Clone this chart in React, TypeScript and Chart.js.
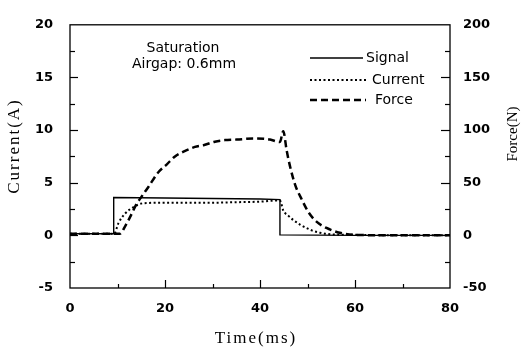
import React, { useEffect, useRef } from "react";
import { Chart, registerables } from "chart.js";

Chart.register(...registerables);

// ---- data ----
const signalTime = [0, 9.2, 9.2, 20, 30, 40, 44.2, 44.2, 60, 80];
const signalValues = [0.15, 0.15, 3.6, 3.55, 3.5, 3.45, 3.4, 0.05, 0, 0];

const currentTime = [0, 5, 9.3, 10.2, 11.6, 13.3, 15.4, 20, 25, 30, 35, 40, 43, 44.2, 44.9, 46, 47, 48.5, 49.8, 51, 52.6, 55, 60, 70, 80];
const currentValues = [0.15, 0.15, 0.15, 1.16, 2.07, 2.67, 3.05, 3.1, 3.1, 3.1, 3.15, 3.2, 3.3, 3.3, 2.36, 1.85, 1.46, 1.0, 0.7, 0.45, 0.25, 0.1, 0.05, 0, 0];

const forceTime = [0, 10.5, 11.6, 13.0, 14.0, 15.1, 16.5, 18.6, 20.4, 22.1, 23.9, 26.3, 28.1, 30.5, 32.6, 35.1, 38.6, 42.1, 44.2, 44.9, 45.6, 46.3, 47.4, 48.8, 50.2, 51.9, 54, 56.8, 60, 70, 80];
const forceValues = [1.5, 1.5, 8.6, 20.6, 29.7, 37, 46, 60, 67.5, 75, 79.5, 84, 85.6, 89, 90.5, 91, 92, 91, 88.6, 99, 81, 66, 48, 34, 22, 13, 7, 2.5, 0.5, 0, 0];

const xTicks = [0, 20, 40, 60, 80];
const yTicks = [-5, 0, 5, 10, 15, 20];
const y1Ticks = [-50, 0, 50, 100, 150, 200];

const seriesNames = ["Signal", "Current", "Force"];
const annotationLines = ["Saturation", "Airgap: 0.6mm"];
const xTitle = "Time(ms)";
const yTitle = "Current(A)";
const y1Title = "Force(N)";

const toPoints = (t: number[], v: number[]) => t.map((x, i) => ({ x, y: v[i] }));

export default function App() {
  const ref = useRef<HTMLCanvasElement>(null);

  useEffect(() => {
    const canvas = ref.current;
    if (!canvas) return;

    const overlay = {
      id: "overlay",
      afterDraw(chart: any) {
        const { ctx, chartArea: a, scales } = chart;
        const xs = scales.x, ys = scales.y, y1s = scales.y1;
        ctx.save();
        ctx.strokeStyle = "#000";
        ctx.fillStyle = "#000";
        // frame
        ctx.lineWidth = 1.3;
        ctx.strokeRect(a.left, a.top, a.right - a.left, a.bottom - a.top);
        ctx.lineWidth = 1.2;
        // bottom ticks (inward)
        const xStep = (xTicks[1] - xTicks[0]) / 2;
        for (let v = xTicks[0] + xStep; v < xTicks[xTicks.length - 1]; v += xStep) {
          const px = Math.round(xs.getPixelForValue(v)) + 0.5;
          const major = xTicks.includes(v);
          ctx.beginPath();
          ctx.moveTo(px, a.bottom);
          ctx.lineTo(px, a.bottom - (major ? 8 : 4));
          ctx.stroke();
        }
        // left ticks
        const yStep = (yTicks[1] - yTicks[0]) / 2;
        for (let v = yTicks[0] + yStep; v < yTicks[yTicks.length - 1]; v += yStep) {
          const py = Math.round(ys.getPixelForValue(v)) + 0.5;
          const major = yTicks.includes(v);
          ctx.beginPath();
          ctx.moveTo(a.left, py);
          ctx.lineTo(a.left + (major ? 8 : 5), py);
          ctx.stroke();
        }
        // right ticks
        const y1Step = (y1Ticks[1] - y1Ticks[0]) / 2;
        for (let v = y1Ticks[0] + y1Step; v < y1Ticks[y1Ticks.length - 1]; v += y1Step) {
          const py = Math.round(y1s.getPixelForValue(v)) + 0.5;
          const major = y1Ticks.includes(v);
          ctx.beginPath();
          ctx.moveTo(a.right, py);
          ctx.lineTo(a.right - (major ? 9 : 5), py);
          ctx.stroke();
        }

        // axis titles
        ctx.textAlign = "center";
        ctx.textBaseline = "middle";
        ctx.font = "17px 'Liberation Serif'";
        (ctx as any).letterSpacing = "2px";
        ctx.fillText(xTitle, 256, 339);
        ctx.save();
        ctx.translate(15, 146);
        ctx.rotate(-Math.PI / 2);
        ctx.fillText(yTitle, 0, 0);
        ctx.restore();
        (ctx as any).letterSpacing = "0px";
        ctx.font = "15px 'Liberation Serif'";
        ctx.save();
        ctx.translate(513, 134);
        ctx.rotate(-Math.PI / 2);
        ctx.fillText(y1Title, 0, 0);
        ctx.restore();

        // annotation
        ctx.font = "14px 'DejaVu Sans'";
        ctx.fillText(annotationLines[0], 183, 48);
        ctx.fillText(annotationLines[1], 184, 64);

        // legend
        const legendRows = [
          { y: 58, x0: 310, x1: 363, tx: 366, dash: [], w: 1.3 },
          { y: 80, x0: 310, x1: 368, tx: 372, dash: [2, 2.5], w: 2 },
          { y: 100, x0: 310, x1: 366, tx: 375, dash: [7, 4], w: 2.5 },
        ];
        ctx.textAlign = "left";
        legendRows.forEach((r, i) => {
          ctx.save();
          ctx.lineWidth = r.w;
          ctx.setLineDash(r.dash);
          ctx.beginPath();
          ctx.moveTo(r.x0, r.y);
          ctx.lineTo(r.x1, r.y);
          ctx.stroke();
          ctx.restore();
          ctx.fillText(seriesNames[i], r.tx, r.y);
        });
        ctx.restore();
      },
    };

    const tickFont = { family: "'DejaVu Sans'", size: 13, weight: "bold" as const };

    const chart = new Chart(canvas, {
      type: "line",
      data: {
        datasets: [
          {
            label: seriesNames[0],
            data: toPoints(signalTime, signalValues),
            borderColor: "#000",
            borderWidth: 1.4,
            pointRadius: 0,
            tension: 0,
            yAxisID: "y",
          },
          {
            label: seriesNames[1],
            data: toPoints(currentTime, currentValues),
            borderColor: "#000",
            borderWidth: 2,
            borderDash: [2, 2.5],
            pointRadius: 0,
            cubicInterpolationMode: "monotone",
            yAxisID: "y",
          },
          {
            label: seriesNames[2],
            data: toPoints(forceTime, forceValues),
            borderColor: "#000",
            borderWidth: 2.5,
            borderDash: [7, 4],
            pointRadius: 0,
            cubicInterpolationMode: "monotone",
            yAxisID: "y1",
          },
        ],
      },
      options: {
        responsive: true,
        maintainAspectRatio: false,
        animation: false,
        layout: { padding: { top: 12, left: 0, right: 0, bottom: 0 } },
        plugins: { legend: { display: false }, tooltip: { enabled: false } },
        scales: {
          x: {
            type: "linear",
            min: xTicks[0],
            max: xTicks[xTicks.length - 1],
            afterBuildTicks: (s: any) => { s.ticks = xTicks.map((v) => ({ value: v })); },
            ticks: { font: tickFont, color: "#000", padding: 13, maxRotation: 0 },
            grid: { display: false, drawTicks: false },
            border: { display: false },
            afterFit: (s: any) => { s.height = 63; },
          },
          y: {
            type: "linear",
            position: "left",
            min: yTicks[0],
            max: yTicks[yTicks.length - 1],
            afterBuildTicks: (s: any) => { s.ticks = yTicks.map((v) => ({ value: v })); },
            ticks: { font: tickFont, color: "#000", padding: 17 },
            grid: { display: false, drawTicks: false },
            border: { display: false },
            afterFit: (s: any) => { s.width = 70; },
          },
          y1: {
            type: "linear",
            position: "right",
            min: y1Ticks[0],
            max: y1Ticks[y1Ticks.length - 1],
            afterBuildTicks: (s: any) => { s.ticks = y1Ticks.map((v) => ({ value: v })); },
            ticks: { font: tickFont, color: "#000", padding: 13 },
            grid: { display: false, drawTicks: false },
            border: { display: false },
            afterFit: (s: any) => { s.width = 71; },
          },
        },
      },
      plugins: [overlay],
    });

    return () => chart.destroy();
  }, []);

  return (
    <div style={{ position: "fixed", left: 0, top: 0, width: 521, height: 351, background: "#fff" }}>
      <canvas ref={ref} />
    </div>
  );
}
